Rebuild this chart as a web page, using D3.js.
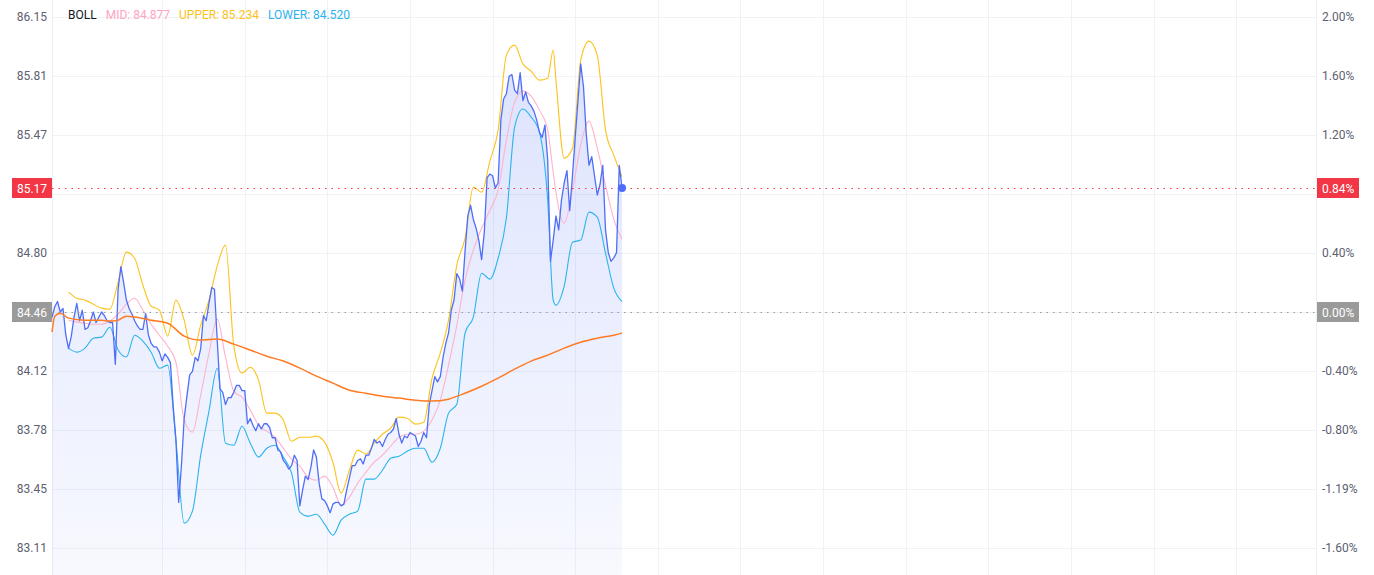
<!DOCTYPE html>
<html><head><meta charset="utf-8">
<script src="https://cdn.jsdelivr.net/npm/d3@7"></script>
<style>
html,body{margin:0;padding:0;background:#fff;overflow:hidden;}
svg{display:block;font-family:Roboto,"Noto Sans",sans-serif;}
</style></head><body>
<svg id="chart" width="1374" height="575"></svg>
<script>
// ---------- DATA ----------
const prevClose = 84.46;
const sessionMinutes = 459;
const gridMinutes = [40,70,100,130,160,190,220,250,280,310,340,370,400,430];

const pctTicks = [2.0,1.6,1.2,0.8,0.4,0,-0.4,-0.8,-1.2,-1.6];
const priceTickLabels = ["86.15","85.81","85.47","85.14","84.80","84.46","84.12","83.78","83.45","83.11"];
const pctTickLabels = ["2.00%","1.60%","1.20%","0.80%","0.40%","0.00%","-0.40%","-0.80%","-1.19%","-1.60%"];

// minute-by-minute price (index = minute)
const price = [
84.43,84.49,84.52,84.46,84.48,84.33,84.25,84.32,84.43,84.51,
84.41,84.47,84.36,84.37,84.41,84.46,84.40,84.43,84.46,84.44,
84.41,84.40,84.40,84.16,84.59,84.72,84.63,84.53,84.48,84.45,
84.41,84.38,84.36,84.36,84.45,84.33,84.28,84.26,84.26,84.23,
84.18,84.22,84.20,84.17,83.92,83.73,83.37,83.58,83.85,83.98,
84.10,84.12,84.20,84.18,84.25,84.44,84.41,84.51,84.60,84.59,
84.30,84.02,84.00,83.93,83.97,83.97,84.00,84.04,84.04,84.01,
84.01,83.82,83.85,83.81,83.78,83.82,83.79,83.82,83.82,83.80,
83.74,83.74,83.67,83.66,83.61,83.59,83.56,83.58,83.64,83.61,
83.35,83.44,83.52,83.50,83.57,83.67,83.63,83.48,83.39,83.38,
83.35,83.31,83.36,83.37,83.37,83.35,83.36,83.44,83.51,83.58,
83.58,83.61,83.62,83.59,83.64,83.64,83.68,83.73,83.71,83.72,
83.69,83.73,83.76,83.77,83.79,83.85,83.76,83.71,83.75,83.74,
83.77,83.76,83.75,83.69,83.72,83.77,83.74,83.93,84.01,84.09,
84.06,84.09,84.20,84.28,84.34,84.47,84.53,84.68,84.65,84.58,
84.81,85.01,85.07,84.99,84.94,84.87,84.76,84.92,85.23,85.25,
85.24,85.17,85.20,85.56,85.68,85.71,85.81,85.82,85.73,85.71,
85.83,85.67,85.72,85.66,85.64,85.61,85.56,85.49,85.46,85.53,
85.33,84.75,84.87,85.01,84.93,85.10,85.20,85.27,85.04,85.24,
85.46,85.67,85.88,85.75,85.48,85.30,85.35,85.24,85.13,85.19,
85.30,84.93,84.80,84.75,84.77,84.80,85.30,85.17
];

const bandMinutes = [6,9,12,15,18,21,24,27,30,33,36,39,42,45,48,51,54,57,60,63,66,69,72,75,78,81,84,87,90,93,96,99,102,105,108,111,114,117,120,123,126,129,132,135,138,141,144,147,150,153,156,159,162,165,168,171,174,177,180,182,183,186,189,192,195,198,201,204,207];

const bollUpper = [
84.574,84.539,84.528,84.505,84.482,84.476,84.631,84.803,84.768,84.614,
84.494,84.471,84.322,84.528,84.413,84.213,84.385,84.528,84.723,84.843,
84.270,84.110,84.144,84.070,83.881,83.881,83.841,83.720,83.743,83.743,
83.749,83.715,83.600,83.423,83.554,83.669,83.646,83.709,83.760,83.795,
83.858,83.852,83.818,83.829,84.081,84.224,84.413,84.728,84.883,85.175,
85.146,85.324,85.501,85.931,85.988,85.881,85.839,85.788,85.799,85.960,85.788,
85.341,85.398,85.902,86.011,85.931,85.501,85.358,85.234
];
const bollMid = [
84.413,84.402,84.396,84.390,84.390,84.408,84.448,84.505,84.539,84.471,
84.390,84.327,84.264,84.173,83.841,83.772,83.984,84.224,84.419,84.201,
84.007,83.972,83.898,83.812,83.778,83.743,83.680,83.617,83.577,83.514,
83.497,83.520,83.457,83.354,83.400,83.480,83.543,83.600,83.640,83.692,
83.743,83.760,83.760,83.778,83.841,83.955,84.156,84.385,84.642,84.814,
84.940,85.043,85.158,85.444,85.662,85.725,85.696,85.616,85.501,85.261,85.146,
84.969,85.158,85.416,85.553,85.398,85.187,84.992,84.877
];
const bollLower = [
84.253,84.230,84.253,84.310,84.316,84.373,84.242,84.202,84.327,84.293,
84.230,84.138,84.156,83.726,83.251,83.320,83.640,83.892,84.138,83.709,
83.697,83.806,83.709,83.629,83.680,83.697,83.629,83.537,83.314,83.291,
83.302,83.245,83.182,83.268,83.302,83.320,83.503,83.503,83.554,83.623,
83.634,83.663,83.680,83.680,83.600,83.680,83.881,83.932,84.339,84.431,
84.682,84.648,84.768,84.998,85.519,85.622,85.576,85.490,85.101,84.528,84.499,
84.608,84.860,84.872,85.032,85.003,84.797,84.597,84.520
];

const maMinutes = [0,1,3,6,12,18,21,24,27,30,36,42,48,54,60,66,72,78,84,90,96,102,108,114,120,126,132,138,144,150,156,162,168,174,180,186,192,198,204,207];
const maValues = [
84.345,84.436,84.453,84.425,84.413,84.413,84.408,84.413,84.436,84.431,
84.413,84.396,84.322,84.299,84.305,84.276,84.242,84.207,84.179,84.139,
84.093,84.053,84.012,83.995,83.978,83.967,83.955,83.950,83.961,83.995,
84.035,84.081,84.133,84.179,84.213,84.253,84.287,84.310,84.327,84.339
];

const legendItems = [
  {label:"BOLL", value:null, color:"#131722"},
  {label:"MID", value:bollMid[bollMid.length-1], color:"#ffa3c4"},
  {label:"UPPER", value:bollUpper[bollUpper.length-1], color:"#fcc21b"},
  {label:"LOWER", value:bollLower[bollLower.length-1], color:"#2ab3ee"}
];

// ---------- CHART ----------
const W = 1374, H = 575;
const plotLeft = 52, plotRight = 1316, plotTop = 17, plotBottom = 548;
const svg = d3.select("#chart");

const x = d3.scaleLinear().domain([0, sessionMinutes]).range([plotLeft, plotRight]);
const y = d3.scaleLinear()
  .domain([prevClose*(1+pctTicks[pctTicks.length-1]/100), prevClose*(1+pctTicks[0]/100)])
  .range([plotBottom, plotTop]);
const tickPrices = pctTicks.map(p => prevClose*(1+p/100));

const defs = svg.append("defs");
const grad = defs.append("linearGradient").attr("id","areaGrad")
  .attr("gradientUnits","userSpaceOnUse").attr("x1",0).attr("x2",0).attr("y1",40).attr("y2",H);
grad.append("stop").attr("offset","0%").attr("stop-color","#4f6ef7").attr("stop-opacity",0.2);
grad.append("stop").attr("offset","100%").attr("stop-color","#4f6ef7").attr("stop-opacity",0.04);

// grid
const grid = svg.append("g");
grid.selectAll("line.h").data(tickPrices).join("line")
  .attr("x1",plotLeft).attr("x2",plotRight)
  .attr("y1",d=>Math.round(y(d))+0.5).attr("y2",d=>Math.round(y(d))+0.5)
  .attr("stroke","#f0f2f5").attr("stroke-width",1);
grid.selectAll("line.v").data(gridMinutes).join("line")
  .attr("y1",0).attr("y2",H)
  .attr("x1",d=>Math.round(x(d))+0.5).attr("x2",d=>Math.round(x(d))+0.5)
  .attr("stroke","#f0f2f5").attr("stroke-width",1);
[plotLeft, plotRight].forEach(px => {
  svg.append("line").attr("x1",px+0.5).attr("x2",px+0.5).attr("y1",0).attr("y2",H)
    .attr("stroke","#eceef2").attr("stroke-width",1);
});

// axes labels
const leftAxis = d3.axisLeft(y).tickValues(tickPrices).tickSize(0).tickPadding(5)
  .tickFormat((d,i)=>priceTickLabels[i]);
const gL = svg.append("g").attr("transform",`translate(${plotLeft},0)`).call(leftAxis);
gL.select(".domain").remove();
gL.selectAll("text").attr("fill","#5d6070").style("font-size","12px").style("font-family","Roboto");

const rightAxis = d3.axisRight(y).tickValues(tickPrices).tickSize(0).tickPadding(6)
  .tickFormat((d,i)=>pctTickLabels[i]);
const gR = svg.append("g").attr("transform",`translate(${plotRight},0)`).call(rightAxis);
gR.select(".domain").remove();
gR.selectAll("text").attr("fill","#5d6070").style("font-size","12px").style("font-family","Roboto");

// area + lines
const plot = svg.append("g");
const area = d3.area().x((d,i)=>x(i)).y0(H).y1(d=>y(d));
plot.append("path").datum(price).attr("d",area).attr("fill","url(#areaGrad)");

const bandLine = d3.line().x(d=>x(d[0])).y(d=>y(d[1])).curve(d3.curveMonotoneX);
const bands = [
  {vals:bollUpper, color:"#fcc21b"},
  {vals:bollMid, color:"#ffb3cc"},
  {vals:bollLower, color:"#2ab3ee"}
];
bands.forEach(b => {
  plot.append("path").datum(bandMinutes.map((m,i)=>[m,b.vals[i]]))
    .attr("d",bandLine).attr("fill","none").attr("stroke",b.color).attr("stroke-width",1.1);
});

const priceLine = d3.line().x((d,i)=>x(i)).y(d=>y(d));
plot.append("path").datum(price).attr("d",priceLine).attr("fill","none")
  .attr("stroke","#4f6ef7").attr("stroke-width",1.3).attr("stroke-linejoin","round");

plot.append("path").datum(maMinutes.map((m,i)=>[m,maValues[i]]))
  .attr("d",bandLine).attr("fill","none").attr("stroke","#ff7a22").attr("stroke-width",1.5);

// price markers
const lastPrice = price[price.length-1];
const lastPct = (lastPrice/prevClose - 1)*100;
function marker(val, color, leftText, rightText){
  const yy = Math.round(y(val));
  svg.append("line").attr("x1",plotLeft).attr("x2",plotRight).attr("y1",yy+0.5).attr("y2",yy+0.5)
    .attr("stroke",color).attr("stroke-width",1).attr("stroke-dasharray","1.5,5");
  svg.append("rect").attr("x",12).attr("y",yy-10).attr("width",40).attr("height",20).attr("fill",color);
  svg.append("text").attr("x",32).attr("y",yy+4.5).attr("text-anchor","middle")
    .attr("fill","#fff").style("font-size","12px").text(leftText);
  svg.append("rect").attr("x",plotRight+1).attr("y",yy-10).attr("width",42).attr("height",20).attr("fill",color);
  svg.append("text").attr("x",plotRight+6).attr("y",yy+4.5)
    .attr("fill","#fff").style("font-size","12px").text(rightText);
}
marker(prevClose, "#9a9a9a", prevClose.toFixed(2), "0.00%");
marker(lastPrice, "#f23645", lastPrice.toFixed(2), lastPct.toFixed(2)+"%");

svg.append("circle").attr("cx",x(price.length-1)).attr("cy",y(lastPrice)).attr("r",4)
  .attr("fill","#4f6ef7");

// legend
let lx = 68;
legendItems.forEach(it => {
  const t = svg.append("text").attr("x",lx).attr("y",19).attr("fill",it.color)
    .style("font-size","12px")
    .text(it.value===null ? it.label : `${it.label}: ${it.value.toFixed(3)}`);
  lx += t.node().getComputedTextLength() + 9;
});
</script>
</body></html>
